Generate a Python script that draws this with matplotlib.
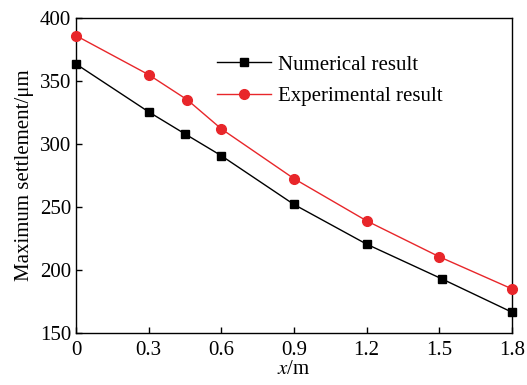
import matplotlib.pyplot as plt

plt.rcParams['font.family'] = ['Liberation Serif', 'DejaVu Serif']
plt.rcParams['mathtext.fontset'] = 'stix'

# datos
x_num = [0, 0.3, 0.45, 0.6, 0.9, 1.2, 1.51, 1.8]
y_num = [363.5, 325.5, 308, 290.7, 252, 220.5, 193, 166.5]
x_exp = [0, 0.3, 0.46, 0.6, 0.9, 1.2, 1.5, 1.8]
y_exp = [386, 355, 335, 312, 272.5, 239, 210.5, 185]
xticks = [0, 0.3, 0.6, 0.9, 1.2, 1.5, 1.8]
xtick_labels = ['0', '0.3', '0.6', '0.9', '1.2', '1.5', '1.8']
yticks = [150, 200, 250, 300, 350, 400]

fig = plt.figure(figsize=(5.27, 3.85), dpi=100)
ax = fig.add_axes([76 / 527, 1 - 333 / 385, 436 / 527, 315 / 385])

ax.plot(x_num, y_num, color='black', linewidth=1, marker='s', markersize=6,
        label='Numerical result', clip_on=False, zorder=3)
ax.plot(x_exp, y_exp, color='#e8262a', linewidth=1, marker='o', markersize=7,
        label='Experimental result', clip_on=False, zorder=3)

ax.set_xlim(0, 1.8)
ax.set_ylim(150, 400)
ax.set_xticks(xticks)
ax.set_xticklabels(xtick_labels)
ax.set_yticks(yticks)
ax.tick_params(direction='in', labelsize=15, length=4, width=1, top=False, right=False)
ax.tick_params(axis='x', pad=6)
for s in ax.spines.values():
    s.set_linewidth(1)

ax.set_xlabel('$x$/m', fontsize=15, labelpad=0)
ax.set_ylabel('Maximum settlement/μm', fontsize=15, labelpad=4)

ax.legend(loc='upper left', bbox_to_anchor=(0.3, 0.915), frameon=False, fontsize=15,
          handlelength=2.6, handletextpad=0.3, labelspacing=0.58, borderpad=0)

fig.savefig('out.png', dpi=100)
